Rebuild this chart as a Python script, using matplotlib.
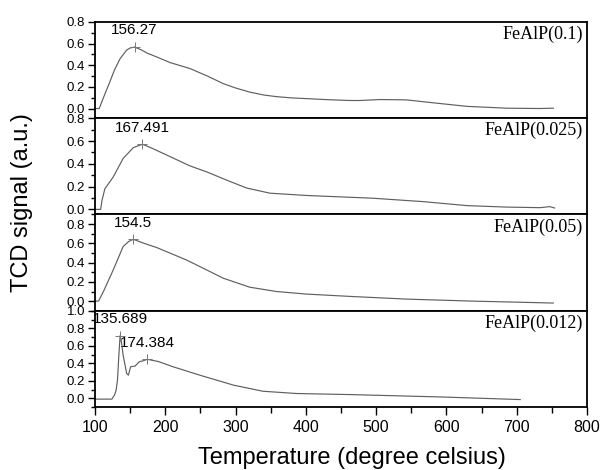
import matplotlib
matplotlib.use("Agg")
import matplotlib.pyplot as plt
from matplotlib.ticker import MultipleLocator

plt.rcParams['font.family'] = ['Liberation Sans', 'DejaVu Sans']

# ---- data ----
samples = ["FeAlP(0.1)", "FeAlP(0.025)", "FeAlP(0.05)", "FeAlP(0.012)"]

t1 = [100, 106, 112, 121, 128, 135.6, 145, 150, 156.3, 165, 175, 187.7, 206.7, 235, 260,
      282.5, 300, 320, 340, 358, 380, 406, 430, 463, 477, 505, 543, 581, 629, 686, 733, 752]
v1 = [0, 0, 0.1, 0.245, 0.36, 0.46, 0.54, 0.56, 0.568, 0.545, 0.51, 0.477, 0.425, 0.37, 0.30,
      0.23, 0.19, 0.152, 0.125, 0.11, 0.098, 0.09, 0.082, 0.074, 0.074, 0.083, 0.08, 0.053,
      0.02, 0.003, 0.0, 0.003]

t2 = [100, 108, 110, 114, 126, 140, 154.5, 167.5, 180, 202, 235, 259, 290, 316, 349, 401,
      448, 495, 567, 629, 686, 733, 747, 754]
v2 = [0, 0, 0.08, 0.18, 0.285, 0.447, 0.542, 0.572, 0.54, 0.477, 0.382, 0.329, 0.25, 0.187,
      0.142, 0.122, 0.11, 0.098, 0.068, 0.033, 0.02, 0.015, 0.024, 0.012]

t3 = [100, 105, 112, 126, 140, 148, 154.5, 170, 188, 230, 260, 282.5, 320, 358, 401, 463,
      543, 638, 752]
v3 = [0, 0, 0.1, 0.325, 0.567, 0.62, 0.642, 0.6, 0.556, 0.428, 0.32, 0.238, 0.145, 0.1,
      0.073, 0.049, 0.021, 0.0, -0.02]

t4 = [100, 124, 128, 130, 132, 134, 135.7, 137.5, 140, 145, 147.5, 150.7, 157, 163, 168.7,
      174.4, 190, 211, 249, 297, 339, 387, 463, 591, 705]
v4 = [-0.01, -0.01, 0.04, 0.092, 0.207, 0.5, 0.716, 0.65, 0.494, 0.284, 0.264, 0.36, 0.368,
      0.417, 0.429, 0.445, 0.42, 0.36, 0.264, 0.15, 0.08, 0.054, 0.042, 0.015, -0.015]

temps = [t1, t2, t3, t4]
signals = [v1, v2, v3, v4]

peak_t = [[156.27], [167.491], [154.5], [135.689, 174.384]]
peak_v = [[0.568], [0.572], [0.642], [0.716, 0.445]]
peak_labels = [["156.27"], ["167.491"], ["154.5"], ["135.689", "174.384"]]

ylims = [(-0.09, 0.8), (-0.045, 0.8), (-0.1, 0.9), (-0.1, 1.0)]
ymax_ticks = [0.8, 0.8, 0.8, 1.0]

xticks = [100, 200, 300, 400, 500, 600, 700, 800]

# ---- figure ----
fig = plt.figure(figsize=(6.05, 4.7), dpi=100)
gs = fig.add_gridspec(4, 1, left=95/605, right=587/605, top=1-22/470, bottom=1-407/470,
                      hspace=0)
axes = [fig.add_subplot(gs[i]) for i in range(4)]

line_color = "#5f5f5f"
for i, ax in enumerate(axes):
    ax.plot(temps[i], signals[i], color=line_color, lw=0.85)
    ax.plot(peak_t[i], peak_v[i], linestyle='none', marker='+', color='#777777',
            markersize=7, markeredgewidth=0.7)
    for pt, pv, lab in zip(peak_t[i], peak_v[i], peak_labels[i]):
        ax.annotate(lab, (pt, pv), xytext=(0, 12), textcoords='offset points',
                    ha='center', va='center', fontsize=11, color='black',
                    zorder=1, annotation_clip=False)
    ax.set_xlim(100, 800)
    ax.set_ylim(*ylims[i])
    ticks = [round(0.2 * k, 1) for k in range(int(round(ymax_ticks[i] / 0.2)) + 1)]
    ax.set_yticks(ticks)
    ax.set_yticklabels([f"{t:.1f}" for t in ticks])
    ax.yaxis.set_minor_locator(MultipleLocator(0.1))
    ax.tick_params(axis='y', which='major', direction='out', length=5, width=1,
                   labelsize=9.5, pad=2)
    ax.tick_params(axis='y', which='minor', direction='out', length=3, width=1)
    ax.tick_params(axis='y', right=False)
    ax.text(0.992, 0.96, samples[i], transform=ax.transAxes, ha='right', va='top',
            fontsize=13, family=['Liberation Serif', 'DejaVu Serif'])
    for s in ax.spines.values():
        s.set_linewidth(1.3)
        s.set_zorder(3)
    if i < 3:
        ax.tick_params(axis='x', which='both', bottom=False, labelbottom=False)
    else:
        ax.set_xticks(xticks)
        ax.set_xticklabels([str(x) for x in xticks])
        ax.xaxis.set_minor_locator(MultipleLocator(50))
        ax.tick_params(axis='x', which='major', direction='out', length=6, width=1,
                       labelsize=11.5, pad=3)
        ax.tick_params(axis='x', which='minor', direction='out', length=4, width=1)
    ax.tick_params(axis='x', top=False)

fig.text(352/605, 0.012, "Temperature (degree celsius)", ha='center', va='baseline',
         fontsize=17)
fig.text(22/605, 1-203/470, "TCD signal (a.u.)", ha='center', va='center',
         rotation=90, fontsize=17)

fig.savefig("out.png", dpi=100)
